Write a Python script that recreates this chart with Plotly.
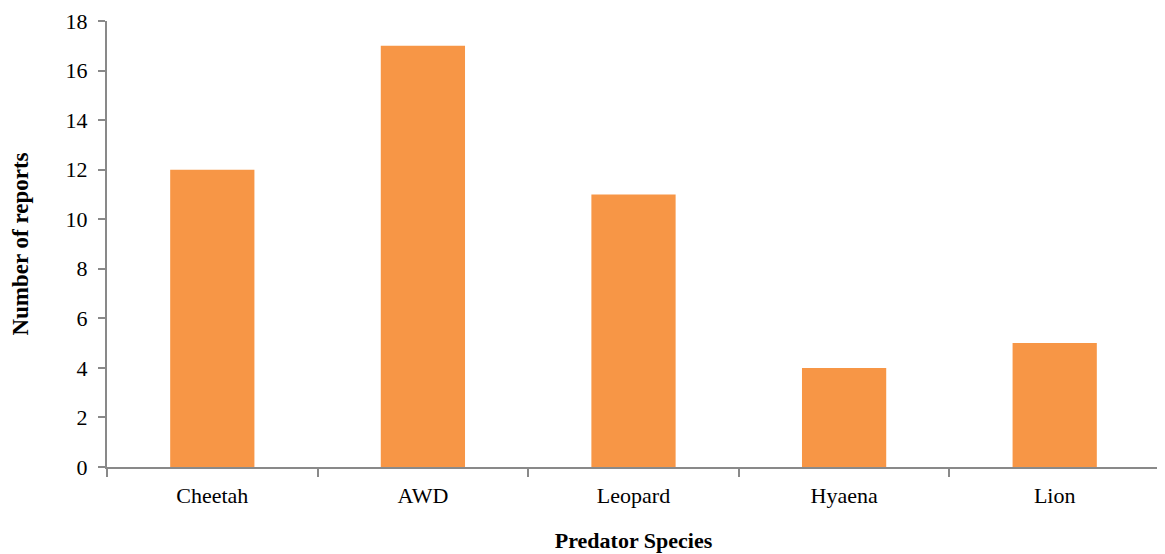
import plotly.graph_objects as go

species = ["Cheetah", "AWD", "Leopard", "Hyaena", "Lion"]
reports = [12, 17, 11, 4, 5]
y_ticks = [0, 2, 4, 6, 8, 10, 12, 14, 16, 18]

serif = "Liberation Serif, DejaVu Serif, serif"
axis_grey = "#898989"

fig = go.Figure(go.Bar(x=species, y=reports, marker=dict(color="#F79646", line_width=0)))

# the page has an 8px body margin, so the figure is a bit smaller and margins shifted
fig.update_layout(
    width=1157, height=546,
    margin=dict(l=99, r=5, t=13, b=87),
    plot_bgcolor="white", paper_bgcolor="white",
    bargap=0.6,
    showlegend=False,
    font=dict(family=serif, size=22, color="black"),
)
fig.update_xaxes(
    title=dict(text="<b>Predator Species</b>", standoff=25, font=dict(size=22)),
    automargin=False,
    showline=True, linecolor=axis_grey, linewidth=2,
    ticks="outside", tickson="boundaries", ticklen=8, tickcolor=axis_grey, tickwidth=2,
    ticklabelstandoff=8,
    showgrid=False,
)
fig.update_yaxes(
    title=dict(text="<b>Number of reports</b>", standoff=41, font=dict(size=23)),
    automargin=False,
    range=[0, 18], tickvals=y_ticks,
    showline=True, linecolor=axis_grey, linewidth=2,
    ticks="outside", ticklen=7, tickcolor=axis_grey, tickwidth=2,
    ticklabelstandoff=6,
    showgrid=False, zeroline=False,
)

fig.write_html("out.html")
